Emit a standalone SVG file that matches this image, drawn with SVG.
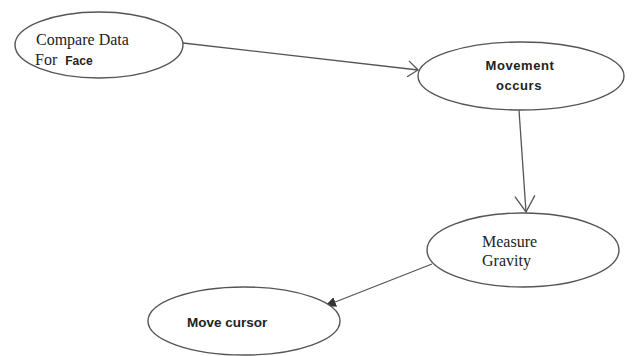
<svg xmlns="http://www.w3.org/2000/svg" width="635" height="356" viewBox="0 0 635 356">
<defs>
<style>
.node{fill:#fff;stroke:#555;stroke-width:1.4}
.edge{fill:none;stroke:#555;stroke-width:1.3}
.serif{font-family:"Liberation Serif","Times New Roman",serif;fill:#222}
.sans{font-family:"Liberation Sans",Arial,sans-serif;font-weight:bold;fill:#222}
</style>
<marker id="open" markerUnits="userSpaceOnUse" markerWidth="20" markerHeight="24" viewBox="0 0 20 24" refX="18" refY="12" orient="auto">
<path d="M2,2 L18,12 L2,22" fill="none" stroke="#555" stroke-width="1.3"/>
</marker>
<marker id="openSmall" markerUnits="userSpaceOnUse" markerWidth="14" markerHeight="20" viewBox="0 0 14 20" refX="12" refY="10" orient="auto">
<path d="M2,2 L12,10 L2,18" fill="none" stroke="#555" stroke-width="1.3"/>
</marker>
<marker id="filled" markerUnits="userSpaceOnUse" markerWidth="12" markerHeight="10" viewBox="0 0 12 10" refX="11" refY="5" orient="auto">
<path d="M0,0 L11,5 L0,10 Z" fill="#333"/>
</marker>
</defs>
<rect width="635" height="356" fill="#fff"/>
<g id="edges">
<path class="edge" d="M183,43 L418,70" marker-end="url(#openSmall)"/>
<path class="edge" d="M519,110 L526,212" marker-end="url(#open)"/>
<path class="edge" d="M432,264 L325,306" marker-end="url(#filled)"/>
</g>
<g id="compare">
<ellipse class="node" cx="99" cy="45" rx="84" ry="33"/>
<text class="serif" x="36" y="45" font-size="16">Compare Data</text>
<text x="35" y="65"><tspan class="serif" font-size="16">For </tspan><tspan class="sans" font-size="12" dx="4">Face</tspan></text>
</g>
<g id="movement">
<ellipse class="node" cx="521" cy="76" rx="103" ry="34"/>
<text class="sans" x="520" y="70" font-size="13" text-anchor="middle" letter-spacing="0.6">Movement</text>
<text class="sans" x="519" y="90" font-size="13" text-anchor="middle" letter-spacing="0.6">occurs</text>
</g>
<g id="measure">
<ellipse class="node" cx="523" cy="250" rx="96" ry="37"/>
<text class="serif" x="482" y="247" font-size="16">Measure</text>
<text class="serif" x="482" y="266" font-size="16">Gravity</text>
</g>
<g id="move">
<ellipse class="node" cx="244" cy="321" rx="96" ry="34"/>
<text class="sans" x="187" y="327" font-size="13.5">Move cursor</text>
</g>
</svg>
